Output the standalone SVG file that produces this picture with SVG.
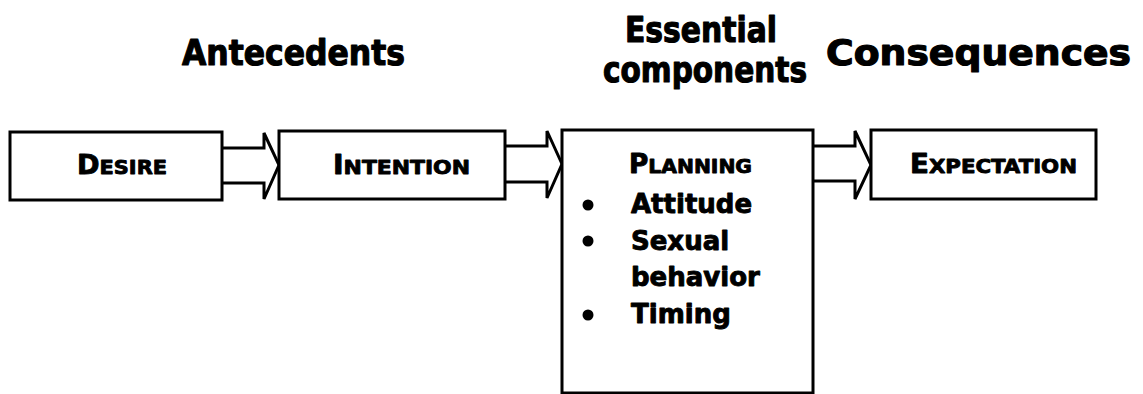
<svg xmlns="http://www.w3.org/2000/svg" width="1143" height="394" viewBox="0 0 1143 394">
<style>
.box{fill:#fff;stroke:#000;stroke-width:3}
.arr{fill:#fff;stroke:#000;stroke-width:3;stroke-linejoin:miter}
.t{font-family:"DejaVu Sans","Verdana",sans-serif;font-weight:bold;fill:#000;stroke:#000;stroke-linejoin:round}
.title{font-size:36px;stroke-width:1.2}
.lbl{font-size:26px;stroke-width:0.9}
.sc{font-size:20px}
.item{font-size:26px;stroke-width:0.9}
</style>
<rect width="1143" height="394" fill="#fff"/>
<g id="headings">
<text class="t title" x="182" y="65" textLength="223" lengthAdjust="spacingAndGlyphs">Antecedents</text>
<text class="t title" x="625" y="42" textLength="152" lengthAdjust="spacingAndGlyphs">Essential</text>
<text class="t title" x="603" y="82" textLength="204" lengthAdjust="spacingAndGlyphs">components</text>
<text class="t title" x="826" y="65" textLength="305" lengthAdjust="spacingAndGlyphs">Consequences</text>
</g>
<g id="connectors">
<polyline class="arr" points="222,148 264,148 264,133 279,165 264,199 264,183 222,183"/>
<polyline class="arr" points="505,146 547,146 547,131 562,164 547,198 547,182 505,182"/>
<polyline class="arr" points="813,146 855,146 855,131 871,165 855,199 855,181 813,181"/>
</g>
<g id="desire">
<rect class="box" x="10" y="132" width="212" height="68"/>
<text class="t lbl" x="77" y="174" textLength="90" lengthAdjust="spacingAndGlyphs">D<tspan class="sc">ESIRE</tspan></text>
</g>
<g id="intention">
<rect class="box" x="279" y="131" width="226" height="68"/>
<text class="t lbl" x="333" y="174" textLength="137" lengthAdjust="spacingAndGlyphs">I<tspan class="sc">NTENTION</tspan></text>
</g>
<g id="planning">
<rect class="box" x="562" y="130" width="251" height="263"/>
<text class="t lbl" x="629" y="173" textLength="123" lengthAdjust="spacingAndGlyphs">P<tspan class="sc">LANNING</tspan></text>
<circle cx="588" cy="205" r="5.5"/>
<text class="t item" x="631" y="213">Attitude</text>
<circle cx="588" cy="241" r="5.5"/>
<text class="t item" x="631" y="249.5">Sexual</text>
<text class="t item" x="631" y="286">behavior</text>
<circle cx="588" cy="315" r="5.5"/>
<text class="t item" x="631" y="322.5">Timing</text>
</g>
<g id="expectation">
<rect class="box" x="871" y="130" width="225" height="69"/>
<text class="t lbl" x="910" y="173" textLength="167" lengthAdjust="spacingAndGlyphs">E<tspan class="sc">XPECTATION</tspan></text>
</g>
</svg>
